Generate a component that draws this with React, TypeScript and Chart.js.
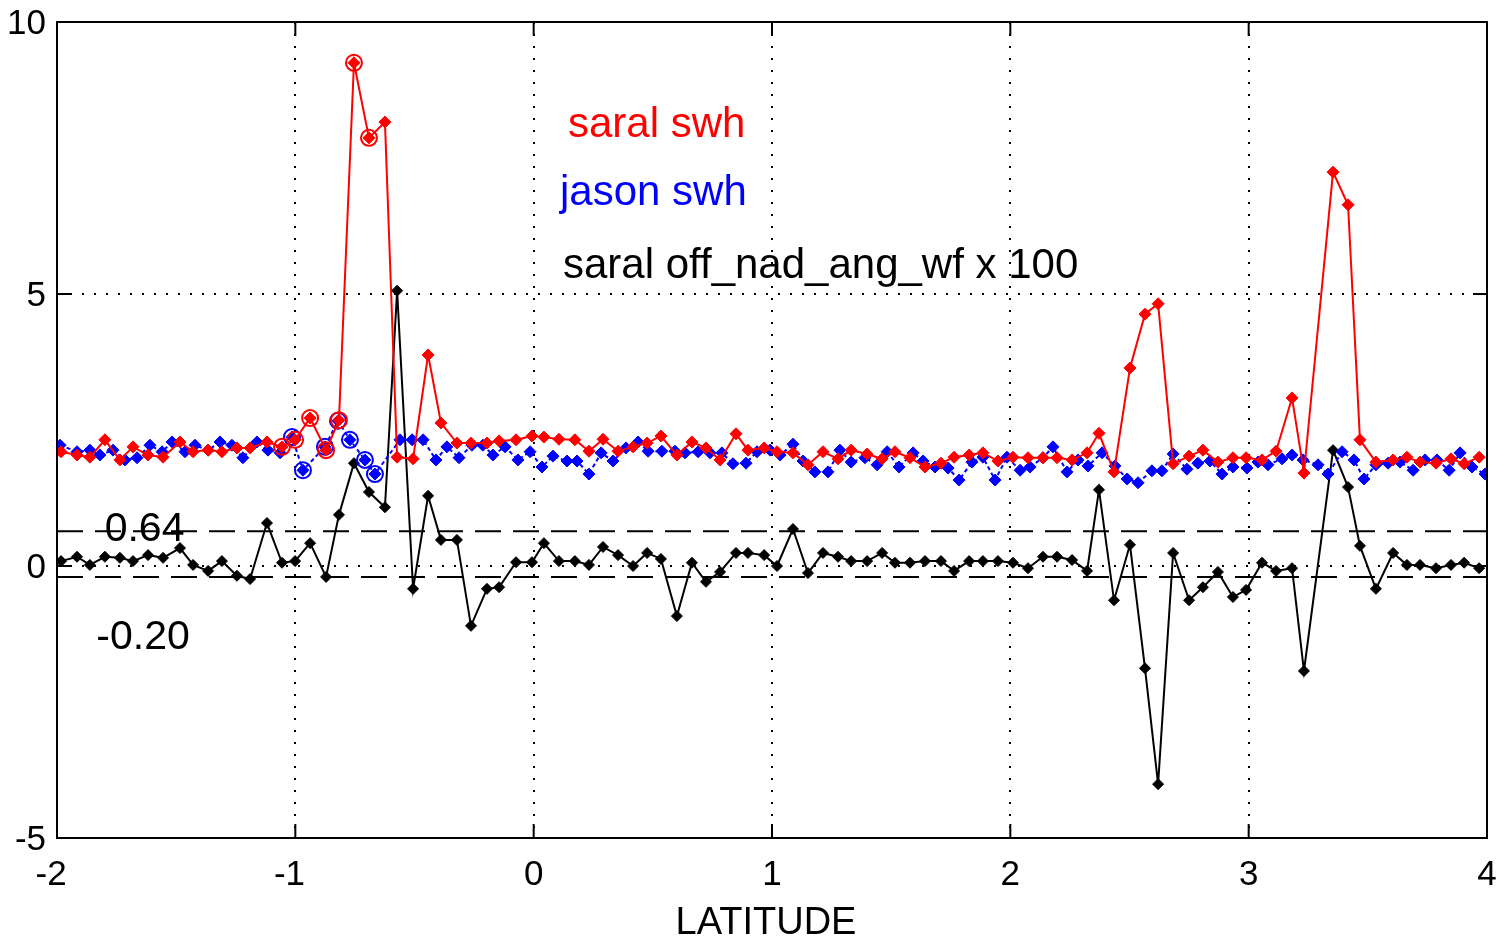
import React, { useEffect, useRef } from "react";
import { Chart, registerables } from "chart.js";
Chart.register(...registerables);

// ---------------- data ----------------
const saralLat = [
  -1.983, -1.916, -1.862, -1.799, -1.736, -1.681, -1.618, -1.555, -1.484, -1.429,
  -1.366, -1.308, -1.245, -1.190, -1.119, -1.056, -1.001, -0.938, -0.871, -0.817,
  -0.754, -0.691, -0.624, -0.573, -0.506, -0.443, -0.389, -0.322, -0.263, -0.196,
  -0.145, -0.074, -0.007, 0.043, 0.106, 0.173, 0.232, 0.291, 0.354, 0.417,
  0.476, 0.534, 0.601, 0.664, 0.723, 0.782, 0.849, 0.899, 0.967, 1.021,
  1.088, 1.151, 1.214, 1.277, 1.332, 1.399, 1.462, 1.516, 1.579, 1.642,
  1.709, 1.764, 1.827, 1.885, 1.948, 2.011, 2.074, 2.137, 2.196, 2.259,
  2.322, 2.372, 2.435, 2.502, 2.565, 2.620, 2.683, 2.750, 2.808, 2.871,
  2.934, 2.989, 3.056, 3.115, 3.182, 3.232, 3.354, 3.417, 3.467, 3.534,
  3.606, 3.664, 3.719, 3.786, 3.849, 3.904, 3.967,
];

const saralSwh = [
  2.10, 2.04, 2.00, 2.32, 1.95, 2.19, 2.04, 2.00, 2.28, 2.10,
  2.13, 2.10, 2.17, 2.17, 2.28, 2.19, 2.32, 2.72, 2.13, 2.68,
  9.25, 7.87, 8.16, 2.00, 1.97, 3.88, 2.63, 2.26, 2.26, 2.26,
  2.30, 2.32, 2.39, 2.37, 2.33, 2.32, 2.11, 2.33, 2.11, 2.19,
  2.26, 2.39, 2.04, 2.28, 2.17, 1.95, 2.43, 2.13, 2.17, 2.10,
  2.08, 1.86, 2.10, 1.97, 2.13, 2.06, 1.97, 2.10, 1.99, 1.82,
  1.89, 2.00, 2.04, 2.08, 1.93, 2.00, 1.99, 1.99, 1.99, 1.95,
  2.08, 2.44, 1.73, 3.64, 4.63, 4.82, 1.88, 2.02, 2.13, 1.91,
  1.99, 1.99, 1.95, 2.11, 3.09, 1.71, 7.24, 6.64, 2.32, 1.91,
  1.95, 2.00, 1.91, 1.89, 1.97, 1.88, 2.00,
];

// saral off_nad_ang_wf x 100
const saralOffNadir = [
  0.09, 0.17, 0.02, 0.17, 0.15, 0.09, 0.20, 0.15, 0.33, 0.02,
  -0.09, 0.09, -0.18, -0.24, 0.79, 0.06, 0.09, 0.42, -0.20, 0.94,
  1.89, 1.36, 1.08, 5.06, -0.42, 1.29, 0.48, 0.48, -1.10, -0.42,
  -0.39, 0.07, 0.07, 0.42, 0.09, 0.09, 0.02, 0.35, 0.20, 0.00,
  0.24, 0.13, -0.92, 0.06, -0.29, -0.11, 0.24, 0.24, 0.20, 0.00,
  0.68, -0.13, 0.24, 0.17, 0.09, 0.09, 0.24, 0.06, 0.06, 0.09,
  0.09, -0.09, 0.09, 0.09, 0.09, 0.06, -0.04, 0.17, 0.17, 0.11,
  -0.09, 1.40, -0.63, 0.39, -1.88, -4.01, 0.24, -0.63, -0.39, -0.11,
  -0.57, -0.44, 0.06, -0.09, -0.04, -1.93, 2.13, 1.45, 0.37, -0.42,
  0.24, 0.02, 0.02, -0.04, 0.02, 0.06, -0.04,
];

const jasonLat = [
  -1.987, -1.916, -1.862, -1.820, -1.765, -1.715, -1.664, -1.610, -1.559, -1.517,
  -1.463, -1.421, -1.366, -1.316, -1.266, -1.220, -1.161, -1.115, -1.064, -1.014,
  -0.968, -0.876, -0.821, -0.771, -0.708, -0.666, -0.561, -0.510, -0.464, -0.410,
  -0.364, -0.313, -0.259, -0.213, -0.171, -0.120, -0.066, -0.015, 0.035, 0.081,
  0.140, 0.182, 0.232, 0.283, 0.333, 0.387, 0.438, 0.480, 0.538, 0.593,
  0.635, 0.690, 0.740, 0.790, 0.836, 0.891, 0.937, 0.992, 1.034, 1.088,
  1.130, 1.180, 1.235, 1.285, 1.332, 1.390, 1.441, 1.483, 1.533, 1.592,
  1.634, 1.684, 1.739, 1.785, 1.839, 1.885, 1.936, 1.986, 2.041, 2.083,
  2.137, 2.179, 2.238, 2.284, 2.326, 2.385, 2.439, 2.490, 2.536, 2.594,
  2.636, 2.683, 2.741, 2.787, 2.838, 2.888, 2.934, 2.993, 3.039, 3.081,
  3.140, 3.182, 3.228, 3.291, 3.333, 3.392, 3.442, 3.484, 3.534, 3.585,
  3.635, 3.690, 3.740, 3.790, 3.841, 3.887, 3.937, 3.992,
];

const jasonSwh = [
  2.22, 2.10, 2.13, 2.04, 2.13, 1.95, 1.99, 2.22, 2.10, 2.28,
  2.10, 2.22, 2.13, 2.28, 2.22, 1.99, 2.28, 2.13, 2.08, 2.37,
  1.76, 2.19, 2.67, 2.32, 1.95, 1.69, 2.32, 2.32, 2.32, 1.95,
  2.19, 1.99, 2.22, 2.22, 2.04, 2.19, 1.95, 2.10, 1.82, 2.02,
  1.93, 1.93, 1.69, 2.08, 1.93, 2.17, 2.28, 2.11, 2.11, 2.11,
  2.08, 2.10, 2.08, 2.08, 1.88, 1.89, 2.10, 2.13, 2.04, 2.24,
  1.93, 1.73, 1.73, 2.13, 1.91, 1.99, 1.86, 2.10, 1.82, 2.08,
  1.93, 1.82, 1.80, 1.58, 1.91, 2.00, 1.58, 2.00, 1.76, 1.82,
  1.99, 2.19, 1.73, 1.95, 1.84, 2.08, 1.84, 1.60, 1.53, 1.75,
  1.75, 2.06, 1.78, 1.89, 1.93, 1.69, 1.82, 1.80, 1.91, 1.86,
  1.97, 2.04, 1.95, 1.86, 1.69, 2.10, 1.95, 1.60, 1.86, 1.89,
  1.91, 1.76, 1.95, 1.95, 1.76, 2.08, 1.82, 1.69,
];

// indices of flagged (circled) samples
const saralFlagged = [15, 16, 17, 18, 19, 20, 21];
const jasonFlagged = [19, 20, 21, 22, 23, 24, 25];

const thresholds = [0.64, -0.2];
const thresholdLabels = ["0.64", "-0.20"];

const xTicks = [-2, -1, 0, 1, 2, 3, 4];
const yTicks = [-5, 0, 5, 10];
const legendLabels = ["saral swh", "jason swh", "saral off_nad_ang_wf x 100"];
const legendColors = ["#ff0000", "#0000ff", "#000000"];
const xTitle = "LATITUDE";

// ---------------- chart ----------------
const FONT = '"Liberation Sans", Arial, Helvetica, sans-serif';

const toXY = (xs: number[], ys: number[]) => xs.map((x, i) => ({ x, y: ys[i] }));

const framePlugin = {
  id: "matlabFrame",
  afterDraw(chart: any) {
    const { ctx, chartArea, scales } = chart;
    const { left, right, top, bottom } = chartArea;
    const xs = scales.x;
    const ys = scales.y;
    ctx.save();
    ctx.strokeStyle = "#000";
    ctx.lineWidth = 2;
    ctx.strokeRect(left, top, right - left, bottom - top);
    ctx.beginPath();
    const tl = 14;
    xTicks.forEach((v) => {
      const px = xs.getPixelForValue(v);
      ctx.moveTo(px, bottom);
      ctx.lineTo(px, bottom - tl);
      ctx.moveTo(px, top);
      ctx.lineTo(px, top + tl);
    });
    yTicks.forEach((v) => {
      const py = ys.getPixelForValue(v);
      ctx.moveTo(left, py);
      ctx.lineTo(left + tl, py);
      ctx.moveTo(right, py);
      ctx.lineTo(right - tl, py);
    });
    ctx.stroke();

    ctx.fillStyle = "#000";
    ctx.textBaseline = "alphabetic";

    // x tick labels: digits centred on the tick, minus sign hanging left
    ctx.font = `35px ${FONT}`;
    xTicks.forEach((v) => {
      const px = xs.getPixelForValue(v);
      const digits = String(Math.abs(v));
      const w = ctx.measureText(digits).width;
      ctx.textAlign = "left";
      const x0 = px - w / 2;
      ctx.fillText(digits, x0, bottom + 47);
      if (v < 0) {
        ctx.textAlign = "right";
        ctx.fillText("-", x0, bottom + 47);
      }
    });

    // y tick labels
    ctx.textAlign = "right";
    yTicks.forEach((v) => {
      const py = ys.getPixelForValue(v);
      ctx.fillText(String(v), left - 11, py + 12);
    });

    // x axis title
    ctx.font = `38px ${FONT}`;
    ctx.textAlign = "center";
    ctx.fillText(xTitle, (left + right) / 2 - 6, bottom + 96);

    // threshold labels
    ctx.textAlign = "left";
    ctx.font = `41px ${FONT}`;
    ctx.fillText(thresholdLabels[0], xs.getPixelForValue(-1.8), ys.getPixelForValue(thresholds[0]) + 10);
    ctx.fillText(thresholdLabels[1], xs.getPixelForValue(-1.835), ys.getPixelForValue(-1.52));

    // text legend
    ctx.font = `42px ${FONT}`;
    const legendPos = [
      [568, 137],
      [560, 205],
      [563, 278],
    ];
    legendLabels.forEach((t, i) => {
      ctx.fillStyle = legendColors[i];
      ctx.fillText(t, legendPos[i][0], legendPos[i][1]);
    });
    ctx.restore();
  },
};

export default function App() {
  const ref = useRef<HTMLCanvasElement | null>(null);

  useEffect(() => {
    if (!ref.current) return;
    const thresholdSets = thresholds.map((t) => ({
      data: [
        { x: -2, y: t },
        { x: 4, y: t },
      ],
      borderColor: "#000",
      borderWidth: 2,
      borderDash: [26, 12],
      pointRadius: 0,
      fill: false,
    }));
    const chart = new Chart(ref.current, {
      type: "line",
      data: {
        datasets: [
          ...thresholdSets,
          {
            data: toXY(saralLat, saralSwh),
            borderColor: "#ff0000",
            backgroundColor: "#ff0000",
            borderWidth: 2,
            pointStyle: "rectRot",
            pointRadius: 6,
            pointBorderWidth: 1,
          },
          {
            data: saralFlagged.map((i) => ({ x: saralLat[i], y: saralSwh[i] })),
            showLine: false,
            borderColor: "#ff0000",
            backgroundColor: "rgba(0,0,0,0)",
            pointStyle: "circle",
            pointRadius: 8,
            pointBorderWidth: 2,
          },
          {
            data: toXY(jasonLat, jasonSwh),
            borderColor: "#0000ff",
            backgroundColor: "#0000ff",
            borderWidth: 2,
            borderDash: [4, 3],
            pointStyle: "rectRot",
            pointRadius: 6,
            pointBorderWidth: 1,
          },
          {
            data: jasonFlagged.map((i) => ({ x: jasonLat[i], y: jasonSwh[i] })),
            showLine: false,
            borderColor: "#0000ff",
            backgroundColor: "rgba(0,0,0,0)",
            pointStyle: "circle",
            pointRadius: 8,
            pointBorderWidth: 2,
          },
          {
            data: toXY(saralLat, saralOffNadir),
            borderColor: "#000",
            backgroundColor: "#000",
            borderWidth: 2,
            pointStyle: "rectRot",
            pointRadius: 5.5,
            pointBorderWidth: 1,
          },
        ] as any,
      },
      options: {
        animation: false,
        responsive: false,
        maintainAspectRatio: false,
        layout: { padding: { left: 0, right: 18, top: 22, bottom: 0 } },
        plugins: { legend: { display: false }, tooltip: { enabled: false } },
        elements: { line: { tension: 0 } },
        scales: {
          x: {
            type: "linear",
            min: -2,
            max: 4,
            afterBuildTicks: (s: any) => {
              s.ticks = xTicks.map((v) => ({ value: v }));
            },
            afterFit: (s: any) => {
              s.height = 100;
            },
            ticks: { display: false },
            grid: { color: "#000", lineWidth: 2, drawTicks: false },
            border: { display: true, color: "#000", width: 2, dash: [2, 10] },
            title: { display: false },
          },
          y: {
            type: "linear",
            min: -5,
            max: 10,
            afterBuildTicks: (s: any) => {
              s.ticks = yTicks.map((v) => ({ value: v }));
            },
            afterFit: (s: any) => {
              s.width = 57;
            },
            ticks: { display: false },
            grid: { color: "#000", lineWidth: 2, drawTicks: false },
            border: { display: true, color: "#000", width: 2, dash: [2, 10] },
          },
        },
      } as any,
      plugins: [framePlugin],
    });
    return () => chart.destroy();
  }, []);

  return (
    <div style={{ position: "absolute", left: 0, top: 0, width: 1505, height: 938, background: "#fff" }}>
      <canvas ref={ref} width={1505} height={938} style={{ display: "block" }} />
    </div>
  );
}
